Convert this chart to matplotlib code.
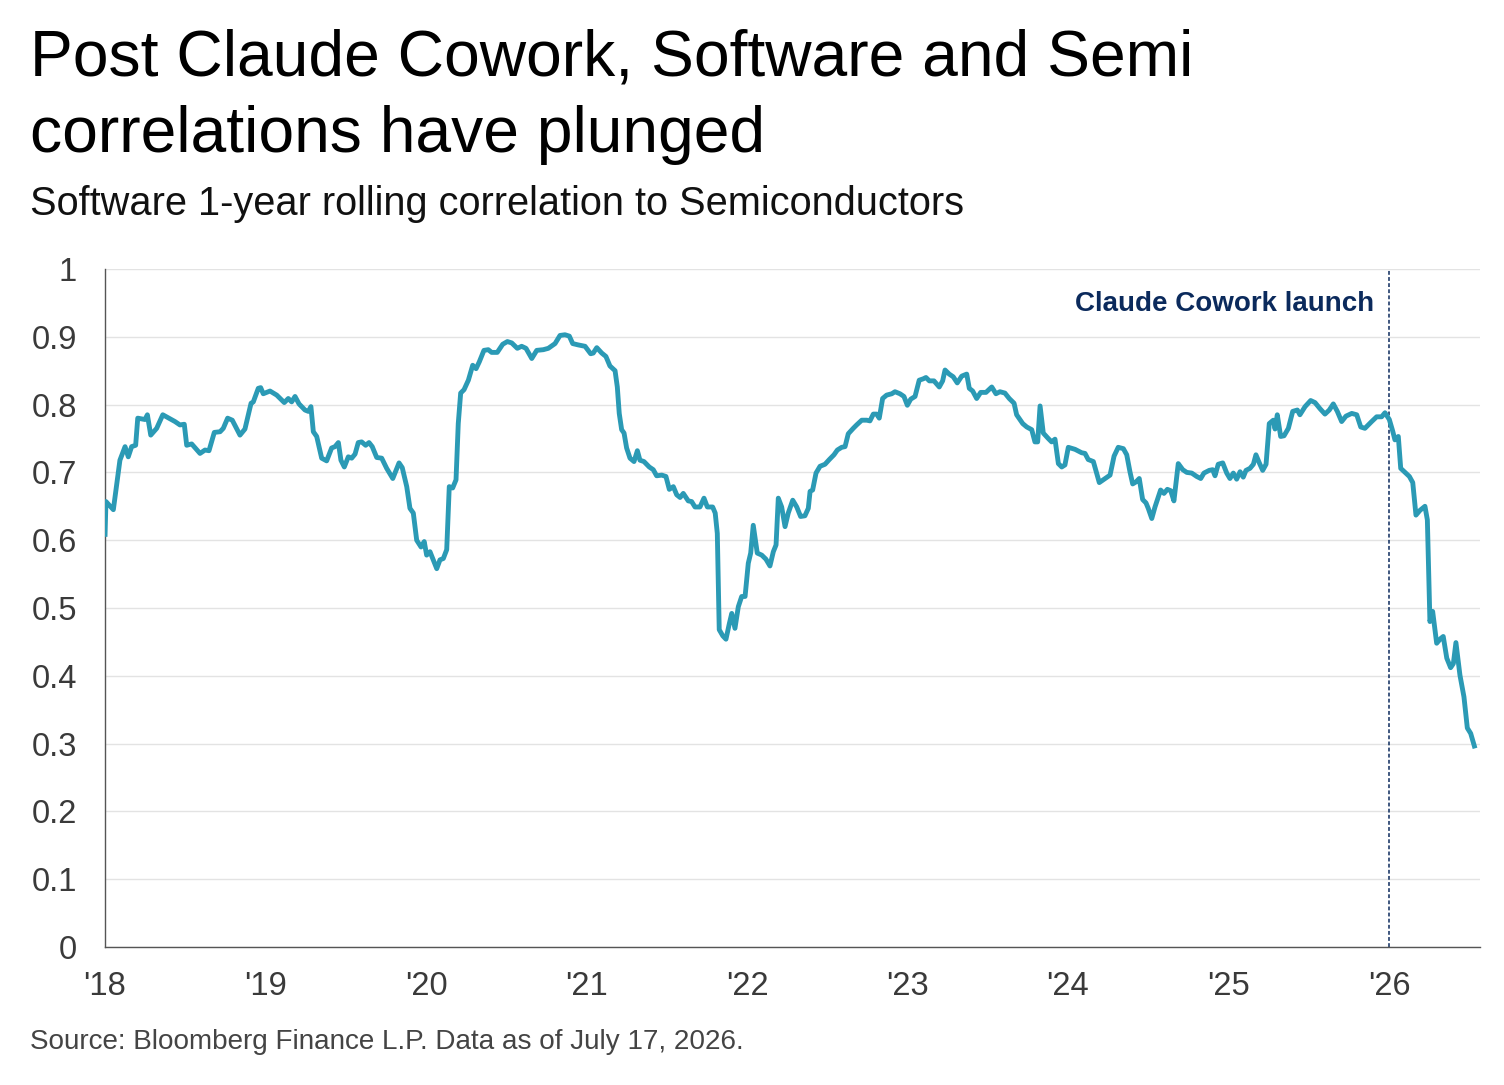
import matplotlib
matplotlib.use("Agg")
import matplotlib.pyplot as plt

plt.rcParams['font.family'] = ['Liberation Sans', 'DejaVu Sans']

# decimal years since 2018 (x) and rolling correlation (y)
years_since_2018 = [
    0.000, 0.006, 0.052, 0.093, 0.125, 0.145, 0.166, 0.191, 0.204, 0.249, 0.264, 0.285, 0.322, 0.360,
    0.436, 0.467, 0.494, 0.509, 0.540, 0.592, 0.623, 0.648, 0.681, 0.717, 0.737, 0.764, 0.793, 0.841,
    0.872, 0.910, 0.924, 0.955, 0.970, 0.986, 1.028, 1.070, 1.117, 1.142, 1.163, 1.184, 1.209, 1.246,
    1.267, 1.283, 1.298, 1.319, 1.350, 1.381, 1.412, 1.433, 1.454, 1.470, 1.491, 1.516, 1.537, 1.558,
    1.578, 1.599, 1.624, 1.645, 1.665, 1.693, 1.724, 1.755, 1.793, 1.832, 1.852, 1.880, 1.900, 1.921,
    1.942, 1.969, 1.989, 2.004, 2.025, 2.067, 2.087, 2.108, 2.129, 2.145, 2.166, 2.187, 2.201, 2.216,
    2.237, 2.264, 2.291, 2.312, 2.332, 2.361, 2.388, 2.409, 2.444, 2.478, 2.507, 2.534, 2.569, 2.596,
    2.623, 2.659, 2.690, 2.731, 2.762, 2.804, 2.835, 2.866, 2.893, 2.914, 2.949, 2.991, 3.026, 3.042,
    3.064, 3.095, 3.121, 3.146, 3.178, 3.192, 3.204, 3.219, 3.234, 3.250, 3.271, 3.296, 3.317, 3.333,
    3.358, 3.391, 3.416, 3.437, 3.469, 3.495, 3.516, 3.541, 3.562, 3.583, 3.603, 3.634, 3.655, 3.676,
    3.707, 3.732, 3.753, 3.786, 3.802, 3.815, 3.827, 3.849, 3.869, 3.890, 3.905, 3.925, 3.946, 3.967,
    3.988, 4.008, 4.023, 4.039, 4.064, 4.092, 4.118, 4.143, 4.164, 4.181, 4.195, 4.216, 4.237, 4.257,
    4.285, 4.310, 4.334, 4.361, 4.382, 4.393, 4.409, 4.430, 4.455, 4.486, 4.513, 4.542, 4.563, 4.590,
    4.611, 4.631, 4.662, 4.683, 4.715, 4.746, 4.766, 4.787, 4.808, 4.824, 4.845, 4.870, 4.902, 4.922,
    4.953, 4.978, 4.999, 5.020, 5.047, 5.073, 5.098, 5.115, 5.136, 5.165, 5.198, 5.219, 5.234, 5.260,
    5.285, 5.310, 5.338, 5.369, 5.385, 5.406, 5.431, 5.456, 5.489, 5.525, 5.551, 5.576, 5.607, 5.634,
    5.664, 5.680, 5.718, 5.743, 5.774, 5.794, 5.811, 5.826, 5.846, 5.877, 5.898, 5.919, 5.940, 5.961,
    5.981, 6.002, 6.044, 6.085, 6.106, 6.126, 6.158, 6.195, 6.231, 6.262, 6.287, 6.313, 6.345, 6.366,
    6.386, 6.403, 6.424, 6.444, 6.465, 6.486, 6.500, 6.522, 6.542, 6.563, 6.577, 6.598, 6.619, 6.640,
    6.660, 6.687, 6.715, 6.740, 6.771, 6.802, 6.827, 6.847, 6.880, 6.901, 6.916, 6.936, 6.964, 6.989,
    7.009, 7.030, 7.051, 7.072, 7.092, 7.109, 7.134, 7.155, 7.171, 7.192, 7.213, 7.234, 7.254, 7.279,
    7.290, 7.304, 7.325, 7.346, 7.373, 7.400, 7.429, 7.445, 7.477, 7.512, 7.539, 7.570, 7.601, 7.628,
    7.653, 7.678, 7.705, 7.732, 7.768, 7.799, 7.824, 7.850, 7.892, 7.923, 7.954, 7.975, 8.002, 8.023,
    8.037, 8.058, 8.073, 8.100, 8.127, 8.148, 8.168, 8.193, 8.224, 8.239, 8.255, 8.272, 8.297, 8.322,
    8.338, 8.360, 8.384, 8.401, 8.417, 8.442, 8.467, 8.488, 8.509, 8.536,
]
correlation = [
    0.605, 0.657, 0.645, 0.718, 0.738, 0.723, 0.738, 0.740, 0.780, 0.778, 0.785, 0.755, 0.765, 0.785,
    0.775, 0.770, 0.771, 0.740, 0.742, 0.728, 0.733, 0.732, 0.759, 0.760, 0.765, 0.780, 0.777, 0.755,
    0.764, 0.802, 0.804, 0.824, 0.825, 0.816, 0.820, 0.814, 0.803, 0.809, 0.804, 0.812, 0.801, 0.792,
    0.790, 0.797, 0.760, 0.753, 0.721, 0.717, 0.736, 0.738, 0.744, 0.718, 0.708, 0.723, 0.721, 0.727,
    0.744, 0.745, 0.740, 0.744, 0.738, 0.722, 0.721, 0.706, 0.691, 0.714, 0.707, 0.679, 0.647, 0.640,
    0.600, 0.590, 0.598, 0.578, 0.583, 0.558, 0.571, 0.573, 0.586, 0.679, 0.677, 0.689, 0.772, 0.817,
    0.822, 0.836, 0.858, 0.853, 0.863, 0.880, 0.881, 0.877, 0.877, 0.889, 0.893, 0.891, 0.883, 0.886,
    0.883, 0.868, 0.880, 0.881, 0.883, 0.890, 0.902, 0.903, 0.901, 0.890, 0.888, 0.886, 0.875, 0.876,
    0.884, 0.876, 0.871, 0.857, 0.850, 0.826, 0.787, 0.763, 0.758, 0.736, 0.721, 0.716, 0.732, 0.718,
    0.716, 0.708, 0.704, 0.695, 0.696, 0.694, 0.675, 0.679, 0.667, 0.663, 0.669, 0.658, 0.657, 0.649,
    0.649, 0.662, 0.649, 0.649, 0.640, 0.610, 0.468, 0.459, 0.454, 0.477, 0.492, 0.470, 0.502, 0.517,
    0.517, 0.566, 0.581, 0.622, 0.581, 0.578, 0.572, 0.562, 0.583, 0.593, 0.662, 0.649, 0.620, 0.640,
    0.659, 0.649, 0.635, 0.636, 0.647, 0.672, 0.674, 0.699, 0.709, 0.712, 0.719, 0.726, 0.733, 0.737,
    0.738, 0.757, 0.765, 0.770, 0.777, 0.777, 0.776, 0.786, 0.786, 0.780, 0.809, 0.814, 0.816, 0.819,
    0.816, 0.812, 0.799, 0.808, 0.812, 0.836, 0.838, 0.840, 0.835, 0.835, 0.826, 0.835, 0.851, 0.845,
    0.841, 0.832, 0.842, 0.845, 0.824, 0.820, 0.809, 0.818, 0.818, 0.826, 0.816, 0.819, 0.817, 0.809,
    0.802, 0.785, 0.772, 0.767, 0.763, 0.745, 0.745, 0.798, 0.758, 0.750, 0.745, 0.749, 0.713, 0.708,
    0.711, 0.737, 0.734, 0.729, 0.728, 0.719, 0.716, 0.685, 0.691, 0.696, 0.724, 0.737, 0.735, 0.726,
    0.701, 0.683, 0.686, 0.691, 0.660, 0.655, 0.647, 0.632, 0.649, 0.664, 0.674, 0.669, 0.675, 0.673,
    0.658, 0.713, 0.704, 0.700, 0.699, 0.694, 0.691, 0.699, 0.703, 0.704, 0.695, 0.712, 0.714, 0.699,
    0.691, 0.699, 0.690, 0.701, 0.693, 0.703, 0.706, 0.712, 0.726, 0.714, 0.703, 0.712, 0.772, 0.777,
    0.764, 0.785, 0.753, 0.754, 0.765, 0.790, 0.792, 0.785, 0.797, 0.806, 0.803, 0.794, 0.786, 0.792,
    0.801, 0.790, 0.775, 0.783, 0.787, 0.785, 0.767, 0.765, 0.775, 0.782, 0.782, 0.788, 0.778, 0.761,
    0.748, 0.753, 0.706, 0.700, 0.694, 0.685, 0.637, 0.644, 0.650, 0.630, 0.480, 0.495, 0.448, 0.455,
    0.458, 0.426, 0.412, 0.418, 0.449, 0.401, 0.369, 0.323, 0.315, 0.293,
]

x_tick_labels = ["'18", "'19", "'20", "'21", "'22", "'23", "'24", "'25", "'26"]
y_ticks = [0, 0.1, 0.2, 0.3, 0.4, 0.5, 0.6, 0.7, 0.8, 0.9, 1.0]
y_tick_labels = ["0", "0.1", "0.2", "0.3", "0.4", "0.5", "0.6", "0.7", "0.8", "0.9", "1"]
launch_year = 8.0  # Jan 2026
x_end = 8.567

title_lines = ["Post Claude Cowork, Software and Semi", "correlations have plunged"]
subtitle = "Software 1-year rolling correlation to Semiconductors"
source = "Source: Bloomberg Finance L.P. Data as of July 17, 2026."
annotation = "Claude Cowork launch"

line_color = "#2b9ab5"
navy = "#0b2a5c"

fig = plt.figure(figsize=(15.04, 10.85), dpi=100)
ax = fig.add_axes([105/1504, 1 - 947/1085, (1480-105)/1504, (947-269)/1085])

ax.plot(years_since_2018, correlation, color=line_color, lw=3.5, solid_joinstyle='round',
        solid_capstyle='butt', zorder=3)
ax.axvline(launch_year, color=navy, lw=1.1, ls=(0, (2.5, 1.5)), zorder=2)
ax.text(launch_year - 0.09, 0.948, annotation, ha='right', va='center', fontsize=20,
        fontweight='bold', color=navy)

ax.set_xlim(0, x_end)
ax.set_ylim(0, 1)
ax.set_xticks(range(len(x_tick_labels)))
ax.set_xticklabels(x_tick_labels)
ax.set_yticks(y_ticks)
ax.set_yticklabels(y_tick_labels)
ax.tick_params(axis='both', length=0, labelsize=23.5, labelcolor="#3a3a3a")
ax.tick_params(axis='x', pad=17)
ax.tick_params(axis='y', pad=20)

ax.grid(axis='y', color="#e3e3e3", lw=1.0, zorder=0)
ax.set_axisbelow(True)
for s in ['top', 'right']:
    ax.spines[s].set_visible(False)
ax.spines['left'].set_color("#555555")
ax.spines['bottom'].set_color("#555555")
ax.spines['left'].set_linewidth(1.0)
ax.spines['bottom'].set_linewidth(1.0)

fig.text(30/1504, 1 - 75/1085, title_lines[0], ha='left', va='baseline', fontsize=46.2,
         color="#000000")
fig.text(30/1504, 1 - 152/1085, title_lines[1], ha='left', va='baseline', fontsize=46.2,
         color="#000000")
fig.text(30/1504, 1 - 204/1085, subtitle, ha='left', va='center', fontsize=28.6, color="#111111")
fig.text(30/1504, 1 - 1042/1085, source, ha='left', va='center', fontsize=20.1, color="#444444")

fig.savefig("out.png", dpi=100, facecolor="white")
